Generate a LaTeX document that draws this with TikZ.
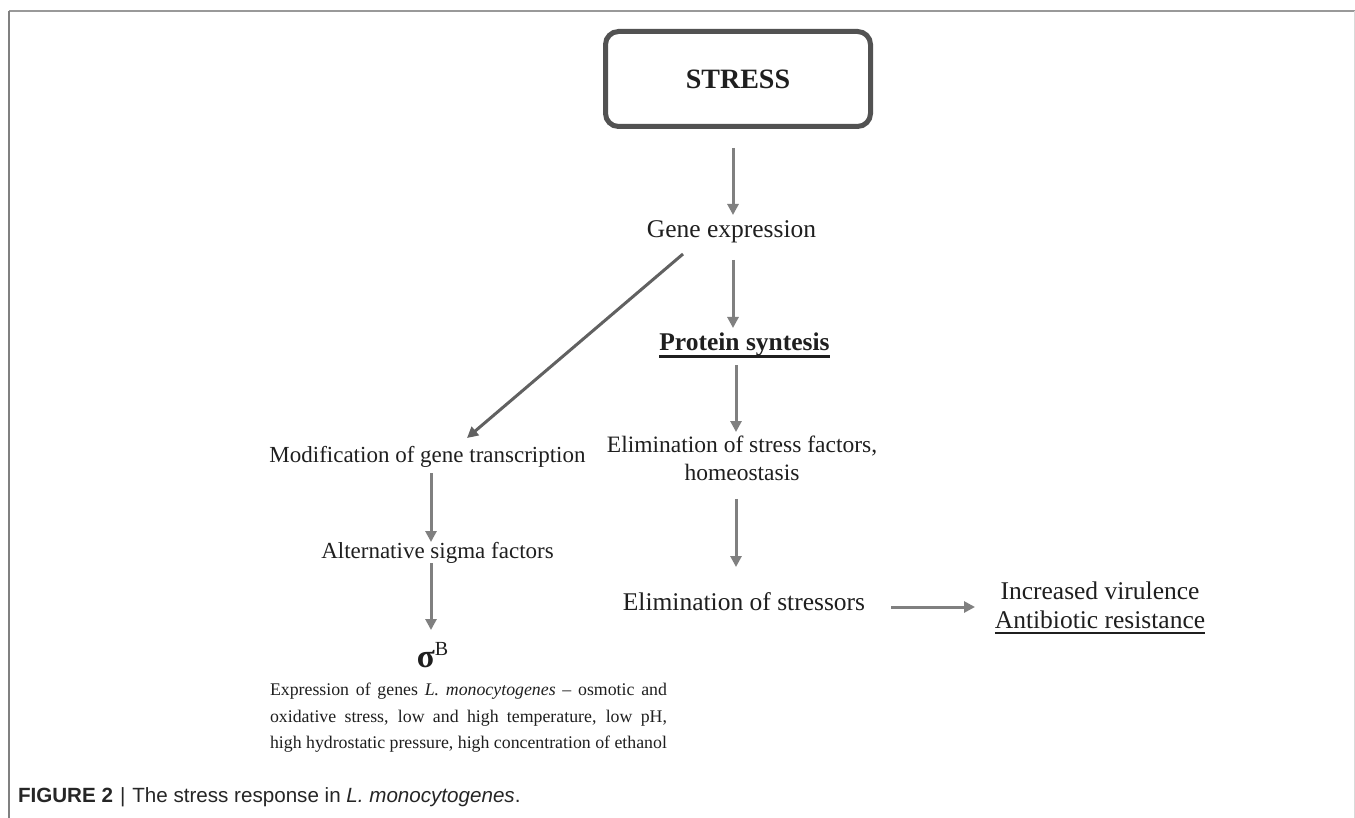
\documentclass[tikz,border=0pt]{standalone}
\usepackage{fontspec}
\setmainfont{Liberation Serif}
\newfontfamily\capfont{Liberation Sans}
\usetikzlibrary{arrows.meta,calc}
\newcommand\myul[3]{\setbox0\hbox{#1}\rlap{\rule[#2]{\wd0}{#3}}\box0}
\begin{document}
\begin{tikzpicture}[x=1pt,y=-1pt,
  txt/.style={inner sep=0pt, outer sep=0pt, text=black!88},
  arr/.style={draw=black!50, line width=3pt, -{Triangle[length=11pt,width=11pt]}},
  darr/.style={draw=black!62, line width=3pt, -{Triangle[length=11pt,width=11pt]}},
  stressbox/.style={draw=black!68, line width=5pt, rounded corners=13pt,
     minimum width=265pt, minimum height=95pt, inner sep=0pt, text=black!88,
     font=\fontsize{28}{30}\selectfont\bfseries},
  big/.style={txt, font=\fontsize{25.5}{29}\selectfont},
  mid/.style={txt, font=\fontsize{23}{28}\selectfont},
]
\useasboundingbox (0,0) rectangle (1355,818);
\fill[white] (0,0) rectangle (1355,818);
% frame
\draw[black!40, line width=2pt] (9,11) -- (1355,11);
\draw[black!50, line width=1.5pt] (9,11) -- (9,818);
\draw[black!15, line width=1pt] (1354,11) -- (1354,818);

% nodes
\node[stressbox] (stress) at (738,79) {STRESS};
\node[big, anchor=base] (gene) at (731.5,238) {Gene expression};
\node[big, anchor=base, font=\fontsize{25.5}{29}\selectfont\bfseries] (prot) at (744.5,350) {\myul{Protein syntesis}{-8pt}{3.2pt}};
\node[txt, anchor=north, align=center, font=\fontsize{23.5}{28}\selectfont] (elim) at (742,436) {Elimination of stress factors,\\homeostasis};
\node[big, anchor=base] (eos) at (744,610) {Elimination of stressors};
\node[big, anchor=north, align=center] (inc) at (1100,582) {Increased virulence\\\myul{Antibiotic resistance}{-5pt}{2pt}};
\node[mid, anchor=base] (mod) at (427.5,462) {Modification of gene transcription};
\node[mid, anchor=base] (alt) at (437.5,558) {Alternative sigma factors};
\node[txt, anchor=base] (sig) at (432.5,667) {{\fontsize{33}{33}\selectfont\bfseries σ}\raisebox{12pt}{\fontsize{20}{20}\selectfont B}};
\node[txt, anchor=north west, align=left, font=\fontsize{17.8}{26.5}\selectfont] (expr) at (270,683)
  {\makebox[397pt][s]{Expression of genes \textit{L. monocytogenes} – osmotic and}\\
   \makebox[397pt][s]{oxidative stress, low and high temperature, low pH,}\\
   high hydrostatic pressure, high concentration of ethanol};
\node[txt, anchor=base west, font=\capfont\fontsize{20.6}{24}\selectfont, text=black!85] (cap) at (18,802)
  {\textbf{FIGURE 2}\hspace{7pt}|\hspace{7pt}The stress response in \textit{L. monocytogenes}.};

% connectors
\draw[arr] ($(stress.south)+(-5,19)$) -- ($(gene.base)+(1.5,-23)$);
\draw[arr] ($(gene.base)+(1.5,22)$) -- ($(prot.base)+(-11.5,-22)$);
\draw[darr] ($(gene.base)+(-48.5,16)$) -- ($(mod.base)+(39.5,-24)$);
\draw[arr] ($(prot.base)+(-8.5,15)$) -- ($(elim.north)+(-6,-4)$);
\draw[arr] ($(elim.south)+(-6,18)$) -- ($(eos.base)+(-8,-43)$);
\draw[arr] ($(eos.base)+(147,-3)$) -- ($(inc.north)+(-125,25)$);
\draw[arr] ($(mod.base)+(3.5,11)$) -- ($(alt.base)+(-6.5,-16)$);
\draw[arr] ($(alt.base)+(-6.5,5)$) -- ($(sig.base)+(-1.5,-37)$);
\end{tikzpicture}
\end{document}
